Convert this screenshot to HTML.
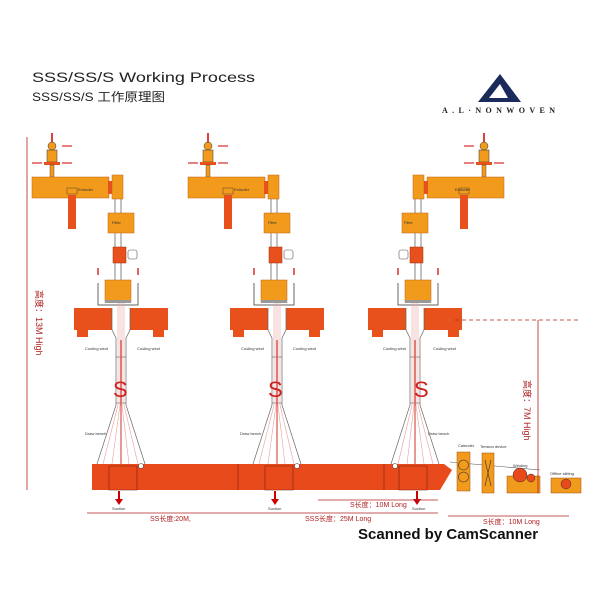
<!DOCTYPE html>
<html><head><meta charset="utf-8"><style>
html,body{margin:0;padding:0;background:#fff;}
svg{display:block;font-family:"Liberation Sans","Noto Sans CJK SC",sans-serif;}
</style></head><body>
<svg width="600" height="600" viewBox="0 0 600 600" xmlns="http://www.w3.org/2000/svg">
<defs>
<g id="col">
  <line x1="-65" y1="133" x2="-65" y2="142" stroke="#c00" stroke-width="1.5"/>
  <circle cx="-65" cy="146" r="4" fill="#f29a1c" stroke="#333" stroke-width=".5"/>
  <rect x="-70" y="150" width="10" height="12" fill="#f29a1c" stroke="#333" stroke-width=".5"/>
  <rect x="-73" y="162" width="16" height="3" fill="#e8501c"/>
  <rect x="-67" y="165" width="4" height="12" fill="#f29a1c" stroke="#333" stroke-width=".4"/>
  <line x1="-85" y1="163" x2="-75" y2="163" stroke="#c00" stroke-width="1"/>
  <line x1="-55" y1="163" x2="-45" y2="163" stroke="#c00" stroke-width="1"/>
  <line x1="-55" y1="146" x2="-45" y2="146" stroke="#c00" stroke-width="1"/>
  <rect x="-85" y="177" width="77" height="21" fill="#f29a1c" stroke="#c06010" stroke-width=".5"/>
  <rect x="-9" y="181" width="4" height="13" fill="#e8501c"/>
  <rect x="-5" y="175" width="11" height="24" fill="#f29a1c" stroke="#c06010" stroke-width=".5"/>
  <rect x="-50" y="188" width="10" height="6" fill="#f29a1c" stroke="#333" stroke-width=".4"/>
  <rect x="-49" y="195" width="8" height="34" fill="#e8501c"/>
  <line x1="-2" y1="199" x2="-2" y2="280" stroke="#666" stroke-width=".8"/>
  <line x1="4" y1="199" x2="4" y2="280" stroke="#666" stroke-width=".8"/>
  <rect x="-9" y="213" width="26" height="20" fill="#f29a1c" stroke="#c06010" stroke-width=".5"/>
  <rect x="-4" y="247" width="13" height="16" fill="#e8501c" stroke="#a03010" stroke-width=".5"/>
  <rect x="11" y="250" width="9" height="9" rx="2" fill="#fff" stroke="#555" stroke-width=".6"/>
  <path d="M-19 283 V305 H21 V283" fill="none" stroke="#666" stroke-width="1"/>
  <rect x="-12" y="280" width="26" height="22" fill="#f29a1c" stroke="#c06010" stroke-width=".5"/>
  <rect x="-12" y="300" width="26" height="3" fill="#999"/>
  <line x1="-19" y1="275" x2="-19" y2="268" stroke="#c00" stroke-width="1.2"/>
  <line x1="21" y1="275" x2="21" y2="268" stroke="#c00" stroke-width="1.2"/>
  <rect x="-43" y="308" width="38" height="22" fill="#e8501c"/>
  <rect x="-40" y="330" width="11" height="7" fill="#e8501c"/>
  <rect x="13" y="308" width="38" height="22" fill="#e8501c"/>
  <rect x="36" y="330" width="11" height="7" fill="#e8501c"/>
  <path d="M-5 308 V330 L-1 338 V405 L-20 464 M13 308 V330 L9 338 V405 L28 464" fill="none" stroke="#666" stroke-width=".7"/>
  <line x1="-1" y1="357" x2="9" y2="357" stroke="#666" stroke-width=".7"/>
  <line x1="-1" y1="403" x2="9" y2="403" stroke="#666" stroke-width=".7"/>
  <g stroke="#e9a0a0" stroke-width=".6">
    <line x1="1" y1="303" x2="1" y2="405"/><line x1="3" y1="303" x2="3" y2="405"/>
    <line x1="5" y1="303" x2="5" y2="405"/><line x1="7" y1="303" x2="7" y2="405"/>
    <line x1="1" y1="405" x2="-14" y2="464"/><line x1="3" y1="405" x2="-5" y2="464"/>
    <line x1="5" y1="405" x2="12" y2="464"/><line x1="7" y1="405" x2="21" y2="464"/>
  </g>
  <line x1="4" y1="340" x2="4" y2="464" stroke="#d03020" stroke-width="1"/>
  <path d="M-8 466 H20 V490 H-8 Z" fill="#e84a1c" stroke="#7a2010" stroke-width=".6"/>
  <circle cx="24" cy="466" r="2.5" fill="#fff" stroke="#333" stroke-width=".5"/>
  <line x1="2" y1="491" x2="2" y2="500" stroke="#c00" stroke-width="2"/>
  <path d="M-2 499 L6 499 L2 505 Z" fill="#c00"/>
</g>
</defs>
<text x="32" y="82" font-size="14" fill="#222" textLength="223" lengthAdjust="spacingAndGlyphs">SSS/SS/S Working Process</text>
<text x="32" y="101" font-size="12" fill="#222" textLength="133" lengthAdjust="spacingAndGlyphs">SSS/SS/S 工作原理图</text>
<path d="M478 102 L500 74 L521 102 Z" fill="#1a2a5a"/>
<path d="M489 98 L500 84 L508 98 Z" fill="#fff"/>
<text x="442" y="113" font-size="8" font-weight="bold" font-family="Liberation Serif,serif" fill="#222" textLength="113">A.L·NONWOVEN</text>
<path d="M92 464 H444 L452 470 L440 490 H92 Z" fill="#e84a1c"/>
<line x1="238" y1="464" x2="238" y2="490" stroke="#7a2010" stroke-width=".6"/>
<line x1="384" y1="464" x2="384" y2="490" stroke="#7a2010" stroke-width=".6"/>
<use href="#col" transform="translate(117,0)"/>
<use href="#col" transform="translate(273,0)"/>
<use href="#col" transform="translate(419,0) scale(-1,1)"/>
<g font-size="22" fill="#d02020">
<text x="113" y="397">S</text><text x="268" y="397">S</text><text x="414" y="397">S</text>
</g>
<g font-size="4" fill="#333">
<text x="78" y="191">Extruder</text><text x="234" y="191">Extruder</text><text x="455" y="191">Extruder</text>
<text x="112" y="224">Filter</text><text x="268" y="224">Filter</text><text x="404" y="224">Filter</text>
<text x="85" y="350">Cooling wind</text><text x="137" y="350">Cooling wind</text>
<text x="241" y="350">Cooling wind</text><text x="293" y="350">Cooling wind</text>
<text x="383" y="350">Cooling wind</text><text x="433" y="350">Cooling wind</text>
<text x="112" y="510">Suction</text><text x="268" y="510">Suction</text><text x="412" y="510">Suction</text>
<text x="85" y="435">Draw bench</text><text x="240" y="435">Draw bench</text><text x="428" y="435">Draw bench</text>
</g>
<line x1="450" y1="462" x2="540" y2="470" stroke="#555" stroke-width=".6"/>
<rect x="457" y="452" width="13" height="39" fill="#f29a1c" stroke="#a05010" stroke-width=".5"/>
<circle cx="463.5" cy="465" r="5" fill="none" stroke="#333" stroke-width=".6"/>
<circle cx="463.5" cy="477" r="5" fill="none" stroke="#333" stroke-width=".6"/>
<rect x="482" y="453" width="12" height="40" fill="#f29a1c" stroke="#a05010" stroke-width=".5"/>
<path d="M485 460 L491 486 M491 460 L485 486" stroke="#333" stroke-width=".6"/>
<rect x="507" y="476" width="33" height="17" fill="#f29a1c" stroke="#a05010" stroke-width=".5"/>
<circle cx="520" cy="475" r="7" fill="#e84a1c" stroke="#333" stroke-width=".5"/>
<circle cx="531" cy="478" r="4" fill="#e84a1c" stroke="#333" stroke-width=".5"/>
<rect x="551" y="478" width="30" height="15" fill="#f29a1c" stroke="#a05010" stroke-width=".5"/>
<circle cx="566" cy="484" r="5" fill="#e84a1c" stroke="#333" stroke-width=".5"/>
<g font-size="4" fill="#333"><text x="458" y="447">Calender</text><text x="480" y="448">Tension device</text><text x="513" y="467">Winding</text><text x="550" y="475">Offline slitting</text></g>
<g stroke="#b02020" stroke-width=".8" fill="none">
<line x1="27" y1="137" x2="27" y2="490"/>
<line x1="538" y1="320" x2="538" y2="493"/>
<line x1="455" y1="320" x2="578" y2="320" stroke-dasharray="4,3"/>
<line x1="87" y1="513" x2="438" y2="513"/>
<line x1="318" y1="500" x2="438" y2="500"/>
<line x1="448" y1="516" x2="569" y2="516"/>
</g>
<g font-size="7" fill="#b02020">
<text x="150" y="521">SS长度:20M,</text>
<text x="305" y="521">SSS长度：25M Long</text>
<text x="350" y="507">S长度：10M Long</text>
<text x="483" y="524">S长度：10M Long</text>
<text transform="translate(36,290) rotate(90)" font-size="9">高度：13M High</text>
<text transform="translate(524,380) rotate(90)" font-size="9">高度：7M High</text>
</g>
<text x="358" y="539" font-size="15" font-weight="bold" fill="#111">Scanned by CamScanner</text>
</svg>
</body></html>
